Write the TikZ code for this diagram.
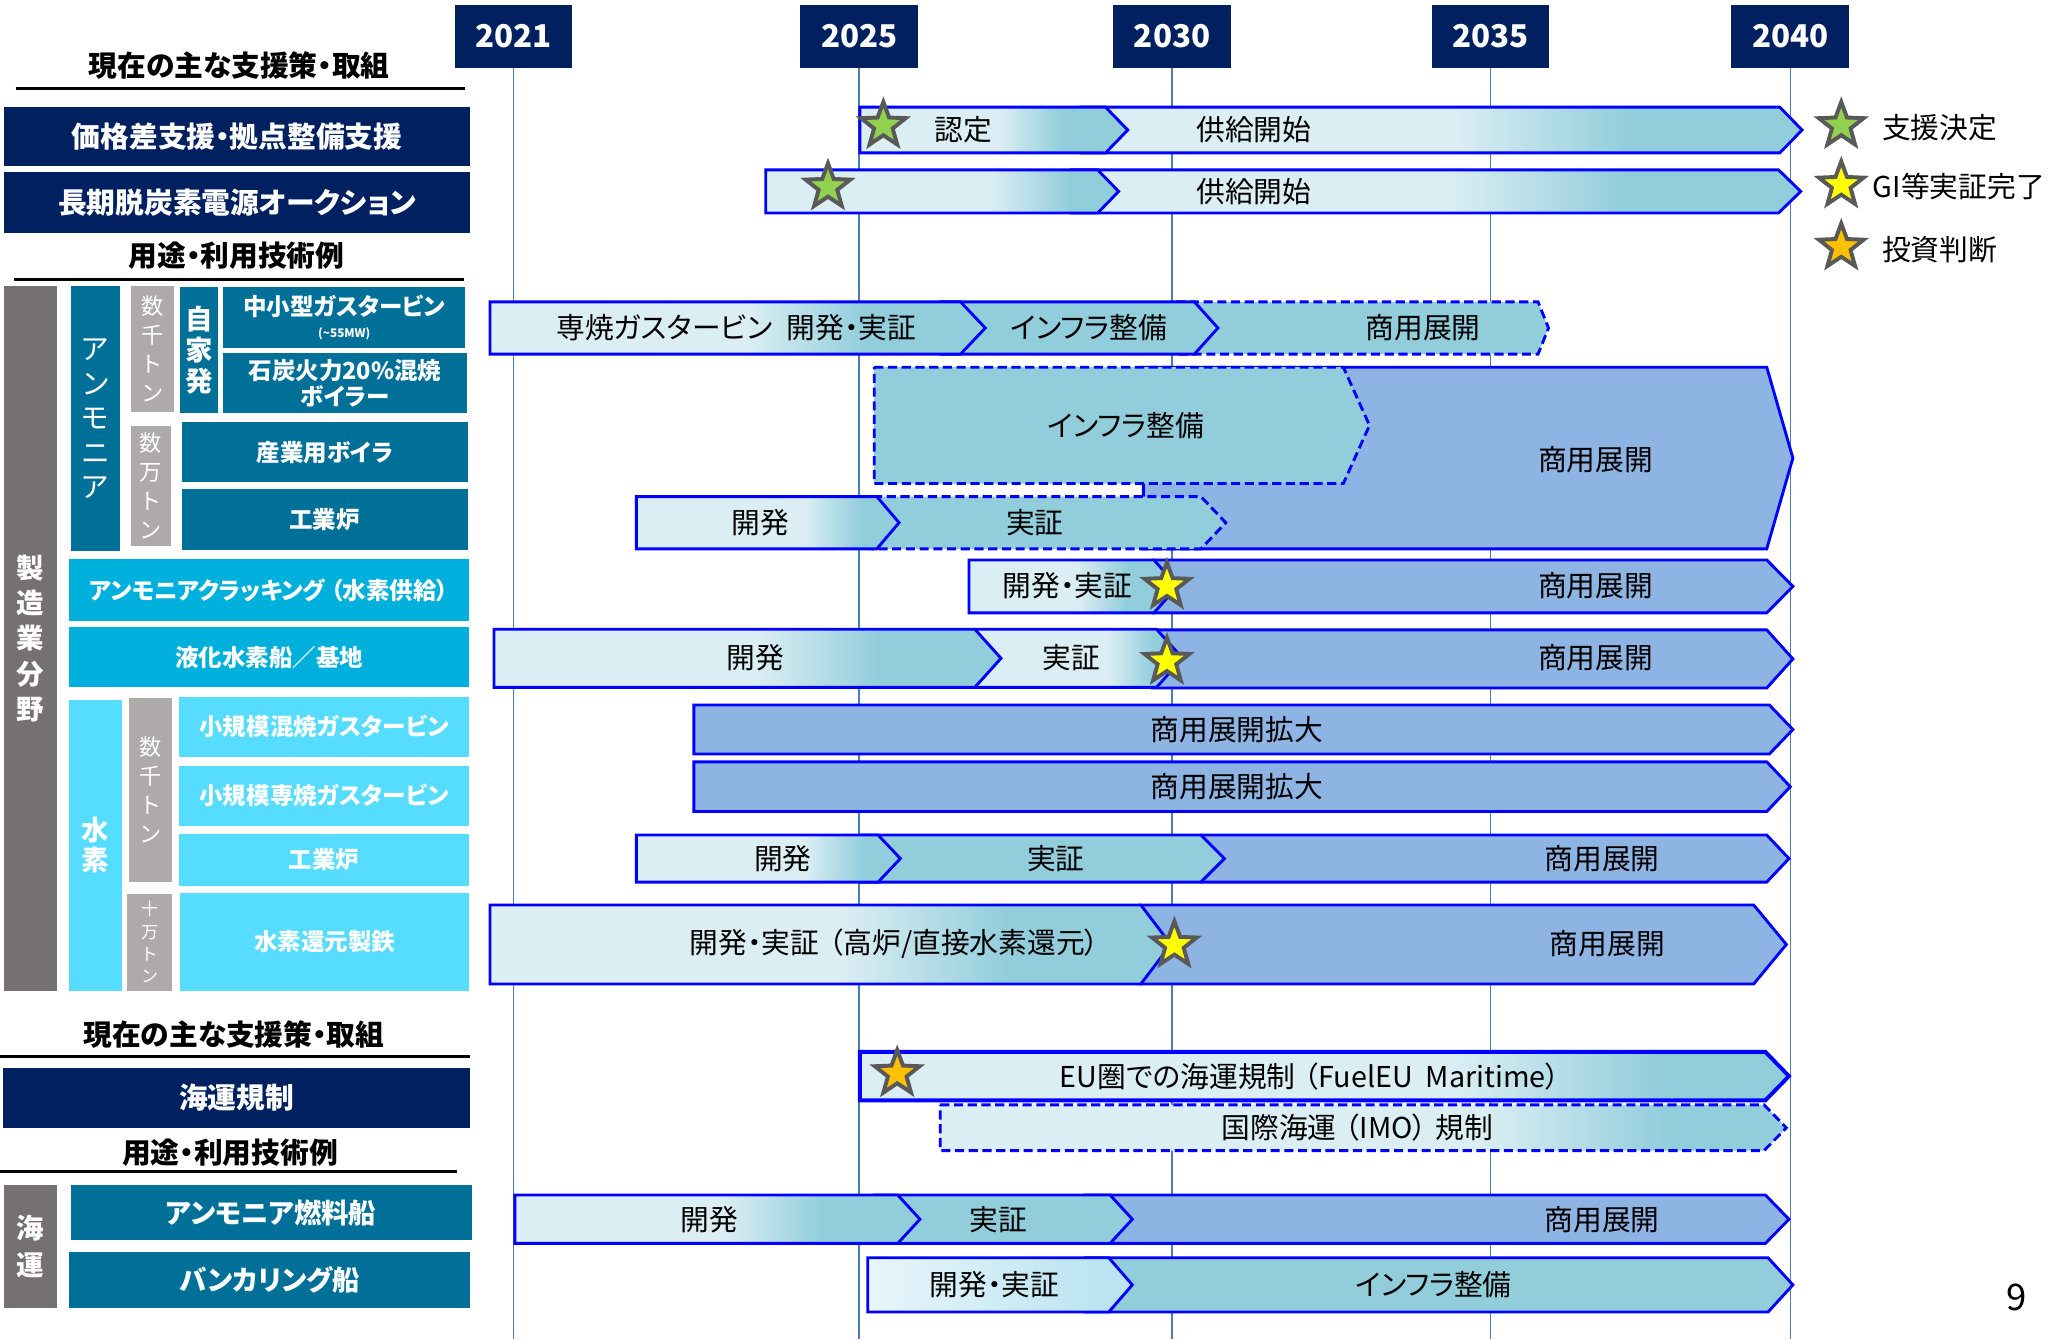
\documentclass[tikz,border=0pt]{standalone}
\usepackage{fontspec}
\setmainfont{Noto Sans CJK JP}[RawFeature=+palt]
\usetikzlibrary{shapes.geometric}

\definecolor{navy}{RGB}{0,32,96}
\definecolor{nh3}{RGB}{0,112,153}
\definecolor{cyanb}{RGB}{0,176,220}
\definecolor{h2}{RGB}{85,220,255}
\definecolor{greyd}{RGB}{118,113,113}
\definecolor{greyl}{RGB}{174,170,170}
\definecolor{barlt}{RGB}{218,238,243}
\definecolor{barmd}{RGB}{146,205,220}
\definecolor{barbl}{RGB}{142,180,227}
\definecolor{barline}{RGB}{0,0,255}
\definecolor{yrline}{RGB}{74,126,187}
\definecolor{stargrey}{RGB}{89,89,89}
\definecolor{stargreen}{RGB}{146,208,80}
\definecolor{staryellow}{RGB}{255,255,0}
\definecolor{starorange}{RGB}{255,192,0}
\definecolor{palelt}{RGB}{232,246,250}
\definecolor{palemd}{RGB}{186,228,242}

\pgfdeclarehorizontalshading{fadeA}{100bp}{color(0bp)=(barlt); color(51bp)=(barlt); color(63bp)=(barmd); color(100bp)=(barmd)}
\pgfdeclarehorizontalshading{fadeB}{100bp}{color(0bp)=(barlt); color(57bp)=(barlt); color(68bp)=(barmd); color(100bp)=(barmd)}
\pgfdeclarehorizontalshading{fadeC}{100bp}{color(0bp)=(palelt); color(25bp)=(palelt); color(70bp)=(palemd); color(100bp)=(palemd)}

% chevron bar: x-left, x-tip, y-top, y-bottom, tip depth, style
\newcommand\chev[6]{\path[#6] (#1,#3) -- ({#2-#5},#3) -- (#2,{(#3+#4)/2}) -- ({#2-#5},#4) -- (#1,#4) -- cycle;}

\begin{document}
\begin{tikzpicture} [
    x=1pt, y=-1pt,
    lbl/.style   = { rectangle, draw=none, inner sep=0pt, outer sep=0pt,
                     anchor=north west, text=white, align=center },
    f22/.style   = { font=\fontsize{22}{26}\selectfont\bfseries },
    f21/.style   = { font=\fontsize{21}{25}\selectfont\bfseries },
    f18/.style   = { font=\fontsize{18}{21}\selectfont\bfseries },
    yr/.style    = { rectangle, fill=navy, text=white, minimum width=90pt,
                     minimum height=48pt, inner sep=0pt,
                     font=\fontsize{24}{28}\selectfont\bfseries },
    head/.style  = { f22, inner sep=0pt },
    hline/.style = { draw, line width=2.2pt },
    yline/.style = { draw=yrline, line width=1.2pt },
    bar/.style   = { draw=barline, line width=2.2pt },
    dbar/.style  = { bar, dash pattern=on 7pt off 3.5pt },
    ltbar/.style = { bar, shade, shading=fadeA },
    mdbar/.style = { bar, fill=barmd },
    blbar/.style = { bar, fill=barbl },
    btxt/.style  = { font=\fontsize{22}{25}\selectfont, inner sep=0pt },
    mstar/.style = { star, star points=5, star point ratio=2.4, minimum size=36pt,
                     inner sep=0pt, draw=stargrey, line width=3pt },
  ]
  \useasboundingbox (0,0) rectangle (1568,1025);

  % years
  \node[yr] (y2021) at (393,28) {2021};
  \node[yr] (y2025) at (657.5,28) {2025};
  \node[yr] (y2030) at (897,28) {2030};
  \node[yr] (y2035) at (1140.5,28) {2035};
  \node[yr] (y2040) at (1370,28) {2040};
  \coordinate (bot) at (0,1025);
  \foreach \y in {2021,2025,2030,2035,2040}
    \path[yline] (y\y.south) -- (y\y.south |- bot);

  % left column
  \node[head] (hd1) at (183,50) {現在の主な支援策・取組};
  \draw[hline] (12,68) -- (356,68);
  \node[lbl, f22, fill=navy, minimum width=357pt, minimum height=45pt] (kakaku) at (3,82) {価格差支援・拠点整備支援};
  \node[lbl, f22, fill=navy, minimum width=357pt, minimum height=46pt] (choki) at (3,132) {長期脱炭素電源オークション};
  \node[head] (hd2) at (181,196) {用途・利用技術例};
  \draw[hline] (11,214) -- (355,214);

  \node[lbl, fill=greyd, minimum width=41pt, minimum height=539pt, font=\fontsize{21}{27}\selectfont\bfseries] (seizo) at (3,219) {製\\造\\業\\分\\野};
  \node[lbl, fill=nh3, minimum width=38pt, minimum height=203pt, font=\fontsize{22}{26.5}\selectfont] (nh3col) at (54,219) {ア\\ン\\モ\\ニ\\ア};
  \node[lbl, fill=greyl, minimum width=33pt, minimum height=96pt, font=\fontsize{17}{22}\selectfont] (sen1) at (100,219) {数\\千\\ト\\ン};
  \node[lbl, fill=nh3, minimum width=29pt, minimum height=96pt, font=\fontsize{21}{24}\selectfont\bfseries] (jika) at (138,220) {自\\家\\発};
  \node[lbl, f18, fill=nh3, minimum width=185pt, minimum height=46pt] (chusho) at (171,220) {中小型ガスタービン\\[-4pt]{\fontsize{9}{10}\selectfont(\textasciitilde 55MW)}};
  \node[lbl, fill=nh3, minimum width=186pt, minimum height=46pt, font=\fontsize{18}{20}\selectfont\bfseries] (sekitan) at (171,270) {石炭火力20\%混焼\\ボイラー};
  \node[lbl, fill=greyl, minimum width=31pt, minimum height=92pt, font=\fontsize{17}{22.2}\selectfont] (man) at (100,326) {数\\万\\ト\\ン};
  \node[lbl, f18, fill=nh3, minimum width=219pt, minimum height=46pt] (sangyo) at (139,323) {産業用ボイラ};
  \node[lbl, f18, fill=nh3, minimum width=219pt, minimum height=47pt] (kogyoA) at (139,374) {工業炉};
  \node[lbl, f18, fill=cyanb, minimum width=306pt, minimum height=47pt] (crack) at (53,428) {アンモニアクラッキング\hspace{0.25em}（水素供給）};
  \node[lbl, f18, fill=cyanb, minimum width=306pt, minimum height=46pt] (ekika) at (53,480) {液化水素船／基地};
  \node[lbl, fill=h2, minimum width=40pt, minimum height=222pt, font=\fontsize{21}{23}\selectfont\bfseries] (h2col) at (53,536) {水\\素};
  \node[lbl, fill=greyl, minimum width=33pt, minimum height=141pt, font=\fontsize{17}{22.4}\selectfont] (sen2) at (99,534) {数\\千\\ト\\ン};
  \node[lbl, f18, fill=h2, minimum width=222pt, minimum height=46pt] (konsho) at (137,533) {小規模混焼ガスタービン};
  \node[lbl, f18, fill=h2, minimum width=222pt, minimum height=46pt] (sensho) at (137,586) {小規模専焼ガスタービン};
  \node[lbl, f18, fill=h2, minimum width=222pt, minimum height=40pt] (kogyoB) at (137,638) {工業炉};
  \node[lbl, fill=greyl, minimum width=35pt, minimum height=74pt, font=\fontsize{13}{17}\selectfont] (juman) at (97,684) {十\\万\\ト\\ン};
  \node[lbl, f18, fill=h2, minimum width=221pt, minimum height=75pt] (seitetsu) at (138,683) {水素還元製鉄};

  \node[head] (hd3) at (179,792) {現在の主な支援策・取組};
  \draw[hline] (0,808.6) -- (360,808.6);
  \node[lbl, f22, fill=navy, minimum width=358pt, minimum height=46pt] (kisei) at (2,817) {海運規制};
  \node[head] (hd4) at (176,882) {用途・利用技術例};
  \draw[hline] (0,896.6) -- (350,896.6);
  \node[lbl, fill=greyd, minimum width=41pt, minimum height=94pt, font=\fontsize{21}{28}\selectfont\bfseries] (kaiun) at (3,907) {海\\運};
  \node[lbl, f21, fill=nh3, minimum width=307pt, minimum height=42pt] (nh3ship) at (54,907) {アンモニア燃料船};
  \node[lbl, f21, fill=nh3, minimum width=307pt, minimum height=43pt] (bunker) at (53,958) {バンカリング船};

  % bars, back to front
  \chev{827}{1379}{82}{117}{17}{ltbar}
  \chev{658}{863}{82}{117}{17}{ltbar}
  \chev{820}{1378}{130}{163}{17}{ltbar}
  \chev{586}{856}{130}{163}{16}{ltbar, shading=fadeB}

  \chev{900}{1185}{231}{271}{8}{dbar, fill=barmd}
  \chev{720}{932}{231}{271}{18}{mdbar}
  \chev{375}{754}{231}{271}{19}{ltbar}

  \chev{875}{1372}{281}{420}{20}{blbar}
  \chev{669}{1048}{281}{370}{20}{dbar, fill=barmd}
  \chev{668}{938}{380}{420}{19}{dbar, fill=barmd}
  \chev{487}{688}{380}{420}{17}{ltbar, shading=fadeB}

  \chev{883}{1372}{428.5}{469}{20}{blbar}
  \chev{741.5}{901}{428.5}{469}{18}{ltbar}

  \chev{882}{1372}{482}{526.5}{20}{blbar}
  \chev{746}{905}{481.5}{526}{20}{ltbar, shading=fadeB}
  \chev{378}{766}{481.5}{526}{20}{ltbar}

  \chev{531}{1372}{539.5}{577}{18}{blbar}
  \chev{531}{1370}{583}{621}{18}{blbar}

  \chev{920}{1369}{639}{675}{17}{blbar}
  \chev{659}{937}{639}{675}{18}{mdbar}
  \chev{487}{689}{639}{675}{17}{ltbar, shading=fadeB}

  \chev{873}{1367}{692.5}{753}{25}{blbar}
  \chev{375}{896}{692.5}{753}{23}{ltbar}

  \chev{658}{1369}{805}{842}{18}{ltbar, shading=fadeB, line width=3pt}
  \chev{719.5}{1367}{845.5}{880.5}{17}{dbar, shade, shading=fadeB}

  \chev{830}{1369}{914.5}{951.5}{18}{blbar}
  \chev{669}{866.5}{914.5}{951.5}{17}{mdbar}
  \chev{394}{704}{914.5}{951.5}{17}{ltbar}

  \chev{831}{1372}{962.5}{1004}{19}{mdbar}
  \chev{664}{866.5}{962.5}{1004}{18}{bar, shade, shading=fadeC}

  % bar labels
  \node[btxt] (r1a) at (737,99.5) {認定};
  \node[btxt] (r1b) at (959.5,99.5) {供給開始};
  \node[btxt] (r2b) at (959.5,146.5) {供給開始};
  \node[btxt] (r3a) at (563.5,251) {専焼ガスタービン\hspace{0.5em}開発・実証};
  \node[btxt] (r3b) at (833.5,251) {インフラ整備};
  \node[btxt] (r3c) at (1089,251) {商用展開};
  \node[btxt] (r4a) at (861.6,326) {インフラ整備};
  \node[btxt] (r4b) at (1221,352) {商用展開};
  \node[btxt] (r5a) at (582,400) {開発};
  \node[btxt] (r5b) at (792,400) {実証};
  \node[btxt] (r6a) at (817,448.5) {開発・実証};
  \node[btxt] (r6b) at (1221,448.5) {商用展開};
  \node[btxt] (r7a) at (578,503.5) {開発};
  \node[btxt] (r7b) at (820,503.5) {実証};
  \node[btxt] (r7c) at (1221,503.5) {商用展開};
  \node[btxt] (r8a) at (946.5,558) {商用展開拡大};
  \node[btxt] (r9a) at (946.5,602) {商用展開拡大};
  \node[btxt] (r10a) at (599,657) {開発};
  \node[btxt] (r10b) at (808,657) {実証};
  \node[btxt] (r10c) at (1226,657) {商用展開};
  \node[btxt] (r11a) at (684.5,722.5) {開発・実証\hspace{0.35em}（高炉/直接水素還元）};
  \node[btxt] (r11b) at (1230,722.5) {商用展開};
  \node[btxt] (r12a) at (1002.5,823.5) {EU圏での海運規制\hspace{0.3em}（FuelEU\ \ Maritime）};
  \node[btxt] (r13a) at (1038.8,863) {国際海運\hspace{0.3em}（IMO）\hspace{0.3em}規制};
  \node[btxt] (r14a) at (543,933) {開発};
  \node[btxt] (r14b) at (764,933) {実証};
  \node[btxt] (r14c) at (1226,933) {商用展開};
  \node[btxt] (r15a) at (761,983) {開発・実証};
  \node[btxt] (r15b) at (1097,983) {インフラ整備};

  % stars
  \node[mstar, fill=stargreen] (s1) at (676,96) {};
  \node[mstar, fill=stargreen] (s2) at (633.6,143) {};
  \node[mstar, fill=staryellow] (s6) at (893,448.5) {};
  \node[mstar, fill=staryellow] (s7) at (893,506) {};
  \node[mstar, fill=staryellow] (s11) at (898.7,723) {};
  \node[mstar, fill=starorange] (s12) at (686.6,821.5) {};

  % legend
  \node[mstar, fill=stargreen] (lg1) at (1409,96) {};
  \node[mstar, fill=staryellow] (lg2) at (1409,141.5) {};
  \node[mstar, fill=starorange] (lg3) at (1409,189) {};
  \node[btxt, anchor=west] (lt1) at (1440,98) {支援決定};
  \node[btxt, anchor=west] (lt2) at (1433,142.5) {GI等実証完了};
  \node[btxt, anchor=west] (lt3) at (1440,191) {投資判断};

  \node[btxt, font=\fontsize{28}{30}\selectfont] (pnum) at (1543,993) {9};
\end{tikzpicture}
\end{document}
